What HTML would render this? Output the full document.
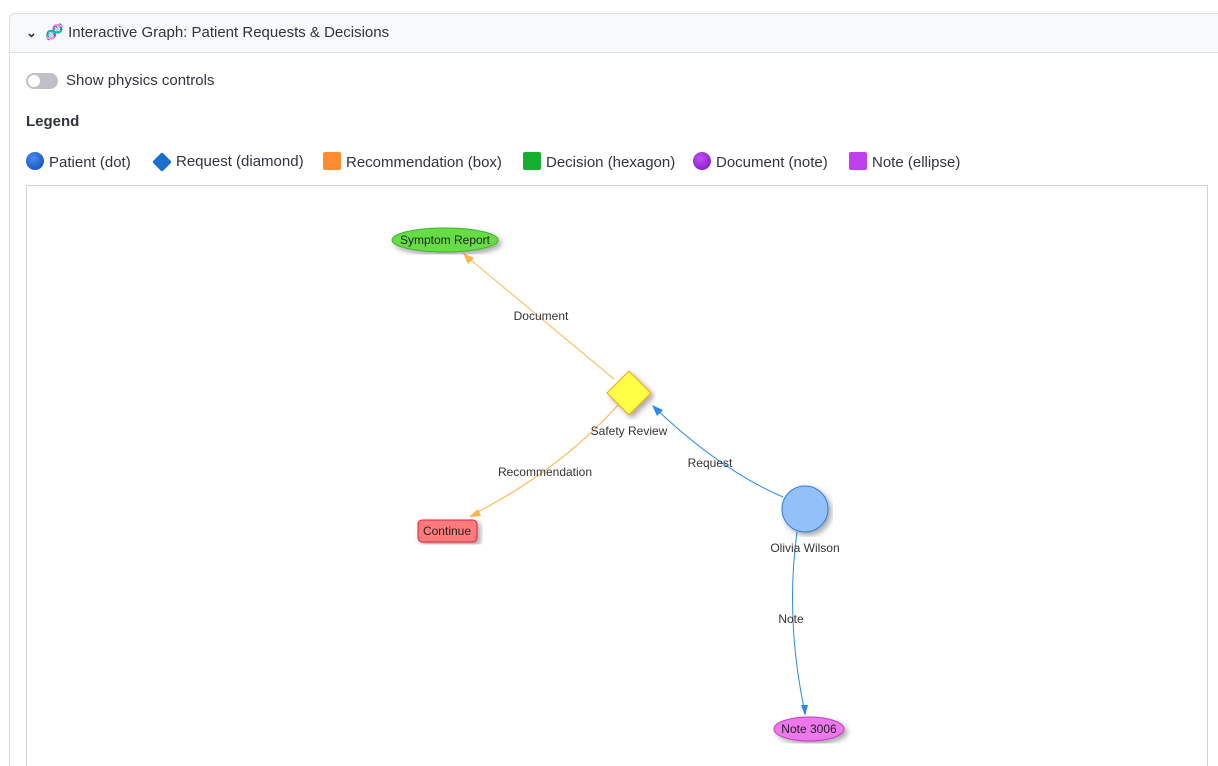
<!DOCTYPE html>
<html style="height:766px;overflow:hidden"><head><style>
body{margin:0;width:1218px;height:766px;overflow:hidden;background:#fff;font-family:"Liberation Sans",sans-serif;position:relative}
.card{position:absolute;left:9px;top:13px;width:1208px;height:752px;border:1px solid #dcdfe3;border-right:none;border-bottom:none;border-radius:6px 0 0 0;}
.hdr{height:38px;background:#f8f9fa;border-bottom:1px solid #dcdfe3;border-radius:6px 0 0 0;font-size:15px;color:#31333f;line-height:38px;padding-left:16px}
.t{position:absolute;font-size:15px;color:#31333f}
.graph{position:absolute;left:26px;top:185px;width:1182px;height:581px;border:1px solid #d3d3d3;border-bottom:none;box-sizing:border-box}
.lg{position:absolute;top:152px;font-size:15px;color:#31333f;line-height:20px}
.sw{display:inline-block;width:18px;height:18px;vertical-align:-3px;margin-right:5px;border-radius:2px}
</style></head><body>
<div class="card"><div class="hdr"><b style="font-size:13px">&#x2304;</b>&nbsp;&nbsp;<span style="color:#c3c">🧬</span> Interactive Graph: Patient Requests &amp; Decisions</div></div>
<div style="position:absolute;left:26px;top:73px;width:32px;height:16px;border-radius:8px;background:#bfc1c6"></div>
<div style="position:absolute;left:28px;top:75px;width:12px;height:12px;border-radius:6px;background:#fff"></div>
<div class="t" style="left:66px;top:72px">Show physics controls</div>
<div class="t" style="left:26px;top:113px;font-weight:bold">Legend</div>
<div class="lg" style="left:26px"><span class="sw" style="border-radius:50%;background:radial-gradient(circle at 40% 35%,#4a8cf0,#0b45b5)"></span>Patient (dot)</div>
<div class="lg" style="left:153px"><span class="sw" style="width:14px;height:14px;transform:rotate(45deg);background:#1a6fd0;margin-left:2px;margin-right:7px"></span>Request (diamond)</div>
<div class="lg" style="left:323px"><span class="sw" style="background:#ff8c30"></span>Recommendation (box)</div>
<div class="lg" style="left:523px"><span class="sw" style="background:#16b030"></span>Decision (hexagon)</div>
<div class="lg" style="left:693px"><span class="sw" style="border-radius:50%;background:radial-gradient(circle at 40% 35%,#c050f0,#7a10c0)"></span>Document (note)</div>
<div class="lg" style="left:849px"><span class="sw" style="background:#c040f0"></span>Note (ellipse)</div>
<div class="graph"></div>
<svg width="1218" height="766" style="position:absolute;left:0;top:0" font-family="Liberation Sans,sans-serif" font-size="12">
<defs><filter id="s"><feDropShadow dx="3" dy="3" stdDeviation="3" flood-opacity="0.35"/></filter></defs>
<g fill="none" stroke-width="1">
<line x1="614" y1="379" x2="466" y2="256" stroke="#ffb347"/>
<path d="M618 405 Q560 470 472 515" stroke="#ffb347"/>
<path d="M783 497 Q720 470 654 407" stroke="#2b8ae8"/>
<path d="M797 532 Q785 620 805 713" stroke="#2b8ae8"/>
</g>
<polygon points="463,253 474,258 468,264" fill="#ffb347"/>
<polygon points="469,517 478,509 481,516" fill="#ffb347"/>
<polygon points="652,405 663,410 657,416" fill="#2b8ae8"/>
<polygon points="805,716 801,705 808,705" fill="#2b8ae8"/>
<g fill="#333" text-anchor="middle">
<text x="541" y="320">Document</text>
<text x="545" y="476">Recommendation</text>
<text x="710" y="467">Request</text>
<text x="791" y="623">Note</text>
</g>
<ellipse cx="445" cy="240" rx="53" ry="12" fill="#66dd44" stroke="#44b030" filter="url(#s)"/>
<text x="445" y="244" text-anchor="middle" fill="#222">Symptom Report</text>
<polygon points="629,371 651,393 629,415 607,393" fill="#ffff44" stroke="#f0a020" filter="url(#s)"/>
<text x="629" y="435" text-anchor="middle" fill="#333">Safety Review</text>
<rect x="418" y="520" width="59" height="22" rx="4" fill="#ff7a7a" stroke="#e02040" filter="url(#s)"/>
<text x="447" y="535" text-anchor="middle" fill="#222">Continue</text>
<circle cx="805" cy="509" r="23" fill="#93c0f8" stroke="#2b7de0" filter="url(#s)"/>
<text x="805" y="552" text-anchor="middle" fill="#333">Olivia Wilson</text>
<ellipse cx="809" cy="729" rx="35" ry="12" fill="#ee77ee" stroke="#c040c0" filter="url(#s)"/>
<text x="809" y="733" text-anchor="middle" fill="#222">Note 3006</text>
</svg>
</body></html>
